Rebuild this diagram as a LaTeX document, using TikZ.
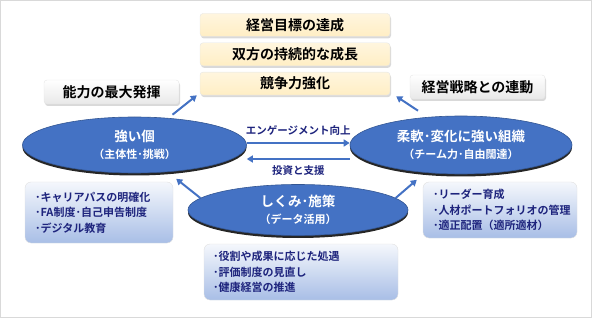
\documentclass[tikz,border=0pt]{standalone}
\usepackage{fontspec}
\setmainfont{Noto Sans CJK JP}[BoldFont={Noto Sans CJK JP Bold}]
\usetikzlibrary{arrows.meta,positioning,shapes.geometric,shadows}
\definecolor{corec}{RGB}{68,114,196}
\definecolor{navyc}{RGB}{30,36,125}
\definecolor{creamc}{RGB}{255,238,196}
\definecolor{listc}{RGB}{168,190,230}
\begin{document}
\begin{tikzpicture}[x=1pt,y=-1pt,
  every node/.style={font=\bfseries\fontsize{14}{16}\selectfont},
  goalbox/.style={draw=black!10, rounded corners=3pt, top color=creamc!55, bottom color=creamc, minimum width=190pt, minimum height=23pt, inner sep=0pt, drop shadow={opacity=0.3, shadow xshift=1pt, shadow yshift=-2pt}},
  valbox/.style={draw=black!10, rounded corners=3pt, top color=white, bottom color=black!9, minimum width=135pt, minimum height=24pt, inner sep=0pt, drop shadow={opacity=0.3, shadow xshift=1pt, shadow yshift=-2pt}},
  core/.style={ellipse, fill=corec, draw=corec!75!black, line width=0.6pt, text=white, align=center, inner sep=0pt, font=\bfseries\fontsize{13.5}{17}\selectfont, drop shadow={fill=black, opacity=0.85, shadow xshift=0pt, shadow yshift=-2.5pt}},
  listbox/.style={draw=black!12, rounded corners=6pt, top color=listc!12, bottom color=listc, text=navyc, align=left, inner xsep=10pt, font=\bfseries\fontsize{11}{15.5}\selectfont},
  flow/.style={draw=corec, line width=2pt, -{Triangle[length=6pt,width=7pt]}},
  flowlabel/.style={text=navyc, inner sep=1pt, font=\bfseries\fontsize{10.5}{13}\selectfont}]
  \useasboundingbox (0,0) rectangle (592,318);
  \draw[black!15] (0.5,0.5) rectangle (591.5,317.5);
  % goals
  \foreach \t [count=\i] in {経営目標の達成,双方の持続的な成長,競争力強化}
    \node[goalbox] (g\i) at (295,{25+29.3*(\i-1)}) {\t};
  \node[valbox] (vl) at (111.5,92) {能力の最大発揮};
  \node[valbox] (vr) at (477.5,87) {経営戦略との連動};
  % three pillars
  \node[core, minimum width=224pt, minimum height=56pt] (lp) at (134.5,145) {強い個\\{\fontsize{11}{14}\selectfont （主体性･挑戦）}};
  \node[core, minimum width=222pt, minimum height=58pt] (ro) at (461,145) {柔軟･変化に強い組織\\{\fontsize{11}{14}\selectfont （チーム力･自由闊達）}};
  \node[core, minimum width=220pt, minimum height=51pt] (sp) at (298,210) {しくみ･施策\\{\fontsize{11}{14}\selectfont （データ活用）}};
  % measures
  \node[listbox, text width=128pt, minimum height=61pt] (lb) at (99,212.5) {･キャリアパスの明確化\\･FA制度･自己申告制度\\･デジタル教育};
  \node[listbox, text width=134pt, minimum height=56pt] (rb) at (500,210) {･リーダー育成\\･人材ポートフォリオの管理\\･適正配置（適所適材）};
  \node[listbox, text width=176pt, inner xsep=9pt, minimum height=56pt] (cb) at (301,272) {･役割や成果に応じた処遇\\･評価制度の見直し\\･健康経営の推進};
  % arrows
  \draw[flow] ([yshift=2pt]lp.east) -- node[flowlabel, above=6pt] {エンゲージメント向上} ([yshift=2pt]ro.west);
  \draw[flow] ([yshift=-14pt]ro.west) -- node[flowlabel, below=5pt] {投資と支援} ([yshift=-14pt]lp.east);
  \draw[flow] ([xshift=38pt,yshift=2pt]lp.north) -- ([xshift=-3pt]g3.south west);
  \draw[flow] ([xshift=-43pt,yshift=5pt]ro.north) -- ([xshift=6pt,yshift=-1pt]g3.south east);
  \draw[flow] (sp.173) -- ([xshift=3pt,yshift=3pt]lb.north east);
  \draw[flow] (sp.7) -- ([xshift=-6pt,yshift=2pt]rb.north west);
\end{tikzpicture}
\end{document}
